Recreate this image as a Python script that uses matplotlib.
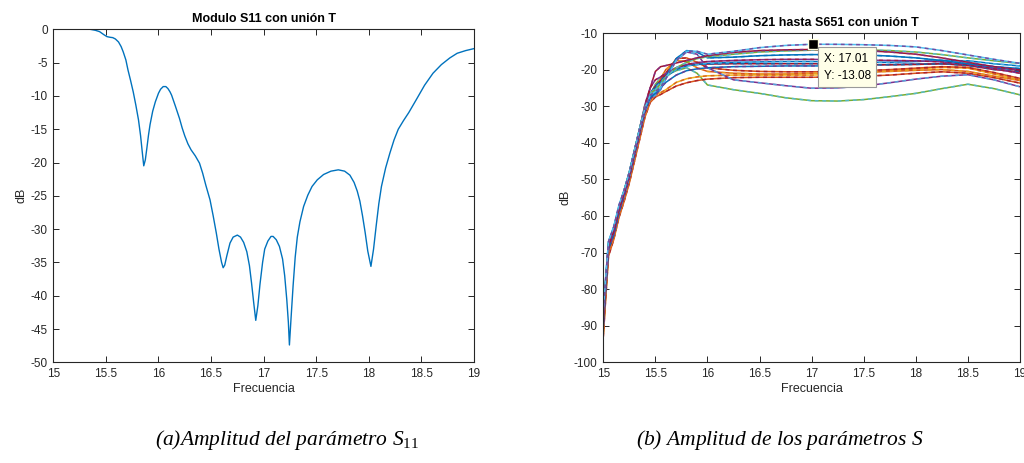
import matplotlib
matplotlib.use("Agg")
import matplotlib.pyplot as plt

plt.rcParams["font.family"] = ["Liberation Sans", "DejaVu Sans"]
plt.rcParams["mathtext.fontset"] = "custom"
plt.rcParams["mathtext.it"] = "Liberation Serif:italic"
plt.rcParams["mathtext.rm"] = "Liberation Serif"

# ---- S11 magnitude (dB) ----
s11_freq = [15.00, 15.20, 15.35, 15.40, 15.44, 15.48, 15.51, 15.54, 15.565, 15.59,
            15.62, 15.645, 15.665, 15.69, 15.71, 15.735, 15.76, 15.785, 15.81, 15.83,
            15.845, 15.86, 15.875, 15.89, 15.905, 15.92, 15.945, 15.97, 16.00, 16.02,
            16.045, 16.07, 16.09, 16.11, 16.125, 16.16, 16.20, 16.225, 16.25, 16.28,
            16.31, 16.35, 16.39, 16.42, 16.45, 16.49, 16.52, 16.55, 16.575, 16.60,
            16.615, 16.63, 16.65, 16.68, 16.71, 16.75, 16.78, 16.81, 16.84, 16.865,
            16.885, 16.905, 16.925, 16.945, 16.965, 16.99, 17.01, 17.04, 17.07, 17.09,
            17.12, 17.15, 17.18, 17.20, 17.22, 17.235, 17.245, 17.26, 17.28, 17.30,
            17.32, 17.345, 17.38, 17.42, 17.46, 17.51, 17.57, 17.64, 17.71, 17.77,
            17.82, 17.86, 17.89, 17.915, 17.94, 17.965, 17.99, 18.02, 18.045, 18.07,
            18.095, 18.12, 18.16, 18.20, 18.24, 18.28, 18.33, 18.38, 18.45, 18.53,
            18.61, 18.69, 18.77, 18.84, 18.92, 19.00]
s11_db = [0.0, 0.0, 0.0, -0.15, -0.35, -0.8, -1.1, -1.2, -1.25, -1.45,
          -1.9, -2.6, -3.4, -4.6, -6.1, -7.7, -9.4, -11.4, -13.6, -16.0,
          -18.3, -20.5, -19.6, -17.8, -15.9, -14.3, -12.3, -10.9, -9.6, -9.0,
          -8.6, -8.6, -8.9, -9.4, -9.9, -11.5, -13.4, -14.8, -16.0, -17.2,
          -18.1, -19.0, -20.1, -21.6, -23.4, -25.6, -28.0, -30.6, -33.0, -35.0,
          -35.8, -35.4, -34.0, -32.1, -31.2, -30.9, -31.2, -32.0, -33.4, -35.5,
          -38.1, -41.0, -43.7, -41.5, -38.3, -35.0, -33.0, -31.8, -31.1, -31.1,
          -31.6, -32.6, -34.5, -37.0, -40.6, -44.0, -47.4, -43.5, -38.5, -34.2,
          -31.2, -28.9, -26.6, -24.9, -23.6, -22.6, -21.8, -21.3, -21.1, -21.3,
          -21.9, -23.0, -24.3, -25.8, -28.0, -30.5, -33.3, -35.6, -33.0, -29.5,
          -26.2, -23.6, -20.8, -18.6, -16.6, -15.0, -13.7, -12.5, -10.6, -8.4,
          -6.6, -5.3, -4.3, -3.6, -3.2, -2.9]

# ---- S21 ... S651 magnitudes (dB) on a shared frequency grid ----
freq = [15.00, 15.02, 15.05, 15.10, 15.15, 15.20, 15.25, 15.30, 15.35, 15.40,
        15.45, 15.50, 15.55, 15.60, 15.70, 15.80, 15.90, 16.00, 16.25, 16.50,
        16.75, 17.00, 17.25, 17.50, 17.75, 18.00, 18.25, 18.50, 18.75, 19.00]

c1 = [-86, -78, -67, -63, -57, -53, -48, -42, -36, -30.5, -27, -26, -25, -22.5, -17.5,
      -15.0, -15.0, -15.8, -15.0, -14.0, -13.4, -13.08, -13.1, -13.2, -13.4, -13.8, -14.8,
      -16.0, -17.2, -18.3]
c2 = [-89, -79, -68, -64, -58, -53.5, -48.5, -42.5, -36.5, -30.5, -25, -20.5, -19.2, -18.9,
      -18.2, -17.5, -16.8, -16.2, -15.3, -14.8, -14.6, -14.5, -14.6, -14.8, -15.2, -15.8,
      -16.8, -18.0, -19.2, -20.1]
c3 = [-88, -79, -67.5, -63.5, -57.5, -53, -48, -42, -36, -30.5, -27.5, -26.5, -25, -22, -17,
      -14.8, -15.2, -16.8, -16.6, -16.2, -16.0, -15.9, -15.9, -16.0, -16.3, -16.8, -17.5,
      -18.4, -19.2, -19.7]
c4 = [-90, -81, -69, -65, -59, -54.5, -49.5, -43.5, -37.5, -31.5, -28, -27, -25.5, -22.5,
      -17.5, -15.2, -15.8, -19.5, -22.8, -23.6, -24.4, -25.1, -25.0, -24.5, -23.6, -22.6,
      -21.8, -21.4, -22.8, -24.7]
c5 = [-92, -83, -70, -66, -60, -55.5, -50.5, -44.5, -38, -32, -27, -24, -22.3, -21.5, -20.3,
      -19.5, -21.0, -24.2, -25.5, -26.5, -27.7, -28.5, -28.6, -28.2, -27.4, -26.5, -25.2,
      -24.0, -25.2, -26.9]
c6 = [-88, -79, -68, -64, -58, -53.5, -48.5, -42, -36, -29.5, -25, -22.8, -22.0, -21.0,
      -19.5, -18.6, -18.1, -17.8, -17.5, -17.3, -17.2, -17.2, -17.3, -17.4, -17.5, -17.6,
      -17.9, -18.6, -19.8, -21.0]
c7 = [-87, -78, -67, -63, -57.5, -53, -48, -42, -36, -30, -26.5, -25, -23.5, -22, -20,
      -19.0, -18.6, -18.3, -18.0, -17.9, -17.8, -17.8, -17.9, -18.0, -18.0, -17.8, -17.5,
      -17.6, -18.4, -19.0]
c8 = [-90, -81, -69, -65, -59, -54, -49, -43, -37, -31, -27.5, -26, -25, -23.5, -21.5,
      -20.3, -19.8, -19.5, -19.2, -19.1, -19.0, -19.0, -19.0, -18.8, -18.6, -18.5, -18.4,
      -18.7, -19.6, -20.1]
c9 = [-91, -82, -69.5, -65.5, -59.5, -55, -50, -44, -38, -32, -28, -26, -23.5, -21, -17,
      -16.8, -18, -19.5, -20.2, -20.5, -20.6, -20.6, -20.5, -20.3, -20.0, -19.6, -19.2,
      -19.4, -20.8, -22.4]
c10 = [-92, -83, -70, -66, -60, -55.5, -50.5, -44.5, -38.5, -32.5, -28.5, -27, -26.3, -25.5,
       -23.5, -22.5, -22.0, -21.7, -21.5, -21.5, -21.5, -21.5, -21.3, -20.8, -20.3, -19.8,
       -19.4, -19.6, -21.2, -22.8]
c11 = [-93, -84, -71, -66.5, -60.5, -56, -51, -45, -39, -33, -29, -27.5, -26.8, -26, -24.5,
       -23.6, -23, -22.6, -22.2, -22.1, -22.1, -22.1, -22.0, -21.8, -21.5, -21.0, -20.6,
       -21.0, -22.2, -23.7]
c12 = [-90, -81, -68.5, -64.5, -58.5, -54, -49, -43, -37, -31, -27, -25.5, -22.5, -20, -17.5,
       -17.8, -19.5, -20.5, -21.0, -21.2, -21.2, -21.0, -20.9, -20.7, -20.5, -20.2, -20.0,
       -20.5, -21.8, -23.0]
c13 = [-89, -80, -68, -64, -58, -53.5, -48.5, -42.5, -36.5, -30.5, -26.5, -24.5, -23, -21.5,
       -19.5, -18.8, -18.6, -18.5, -18.4, -18.4, -18.4, -18.4, -18.5, -18.6, -18.7, -18.6,
       -18.4, -18.9, -20.0, -20.6]
c14 = [-88, -79, -67.5, -63.5, -57.5, -53, -48, -42, -36, -30, -26.5, -25.5, -24, -22, -19.5,
       -18, -17, -16.5, -15.8, -15.2, -14.9, -14.7, -14.6, -14.6, -14.8, -15.2, -15.9, -16.8,
       -17.6, -18.3]
curves = [c5, c11, c10, c9, c12, c4, c8, c13, c7, c6, c3, c14, c2, c1]

# data tip on the strongest transmission curve
tip_x = 17.01
tip_y = -13.08

s11_ticks_x = [15, 15.5, 16, 16.5, 17, 17.5, 18, 18.5, 19]
s11_ticks_y = [0, -5, -10, -15, -20, -25, -30, -35, -40, -45, -50]
sxx_ticks_y = [-10, -20, -30, -40, -50, -60, -70, -80, -90, -100]

# MATLAB-style colour order
BLUE, ORANGE, YELLOW, PURPLE = "#0072BD", "#D95319", "#EDB120", "#7E2F8E"
GREEN, LIGHTBLUE, DARKRED = "#77AC30", "#4DBEEE", "#A2142F"
pair_colors = [(GREEN, LIGHTBLUE), (ORANGE, DARKRED), (YELLOW, ORANGE), (ORANGE, DARKRED),
               (ORANGE, YELLOW), (PURPLE, LIGHTBLUE), (BLUE, PURPLE), (DARKRED, BLUE),
               (BLUE, LIGHTBLUE), (PURPLE, DARKRED), (BLUE, BLUE), (GREEN, LIGHTBLUE),
               (DARKRED, PURPLE), (LIGHTBLUE, PURPLE)]

AX_COLOR = "#262626"
W, H = 1024, 463
fig = plt.figure(figsize=(W / 100, H / 100), dpi=100)


def style_axes(ax):
    for sp in ax.spines.values():
        sp.set_color(AX_COLOR)
        sp.set_linewidth(0.8)
    ax.tick_params(direction="in", top=True, right=True, length=4, width=0.7,
                   colors=AX_COLOR, labelsize=8.5, pad=4)
    for lab in ax.get_xticklabels() + ax.get_yticklabels():
        lab.set_color(AX_COLOR)


# left panel
ax1 = fig.add_axes([53.3 / W, 1 - 362.3 / H, (474 - 53.3) / W, (362.3 - 29.3) / H])
ax1.plot(s11_freq, s11_db, color=BLUE, lw=1.0)
ax1.set_xlim(15, 19)
ax1.set_ylim(-50, 0)
ax1.set_xticks(s11_ticks_x)
ax1.set_xticklabels([f"{t:g}" for t in s11_ticks_x])
ax1.set_yticks(s11_ticks_y)
ax1.set_yticklabels([f"{t:g}" for t in s11_ticks_y])
ax1.set_title("Modulo S11 con unión T", fontsize=9, fontweight="bold", pad=5, color="black")
ax1.set_xlabel("Frecuencia", fontsize=9, color=AX_COLOR, labelpad=2)
ax1.set_ylabel("dB", fontsize=9, color=AX_COLOR, labelpad=2)
style_axes(ax1)

# right panel
ax2 = fig.add_axes([603.3 / W, 1 - 362.3 / H, (1020 - 603.3) / W, (362.3 - 33) / H])
for vals, (ca, cb) in zip(curves, pair_colors):
    ax2.plot(freq, vals, color=ca, lw=1.1, solid_capstyle="butt")
    ax2.plot(freq, vals, color=cb, lw=1.1, linestyle=(0, (2.5, 2.5)), alpha=0.8)
ax2.set_xlim(15, 19)
ax2.set_ylim(-100, -10)
ax2.set_xticks(s11_ticks_x)
ax2.set_xticklabels([f"{t:g}" for t in s11_ticks_x])
ax2.set_yticks(sxx_ticks_y)
ax2.set_yticklabels([f"{t:g}" for t in sxx_ticks_y])
ax2.set_title("Modulo S21 hasta S651 con unión T", fontsize=9, fontweight="bold", pad=5,
              color="black")
ax2.set_xlabel("Frecuencia", fontsize=9, color=AX_COLOR, labelpad=2)
ax2.set_ylabel("dB", fontsize=9, color=AX_COLOR, labelpad=2)
style_axes(ax2)

ax2.plot([tip_x], [tip_y], marker="s", markersize=7, color="black",
         markeredgecolor="#FFFFE1", markeredgewidth=1.0, zorder=10, clip_on=False)
ax2.annotate(f"X: {tip_x:.2f}\nY: {tip_y:.2f}", xy=(tip_x, tip_y), xytext=(8, -6),
             textcoords="offset points", ha="left", va="top", fontsize=8.5,
             color="black", linespacing=1.55, zorder=11,
             bbox=dict(boxstyle="square,pad=0.45", fc="#FFFFE8", ec="#9A9A9A", lw=0.8))

# captions
cap_kw = dict(fontsize=15.5, style="italic", family="Liberation Serif", color="black",
              ha="center", va="center")
fig.text(287 / W, 1 - 440 / H, r"(a)Amplitud del parámetro $S_{11}$", **cap_kw)
fig.text(780 / W, 1 - 440 / H, r"(b) Amplitud de los parámetros $S$", **cap_kw)

fig.savefig("out.png", dpi=100, facecolor="white")
